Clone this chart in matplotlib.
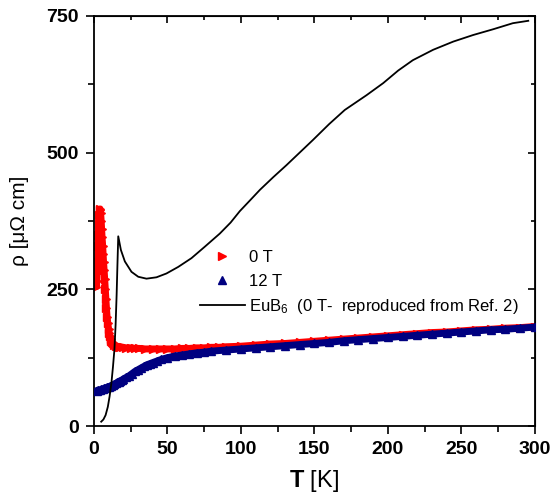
import numpy as np
import matplotlib
matplotlib.use("Agg")
import matplotlib.pyplot as plt
from matplotlib.ticker import MultipleLocator

plt.rcParams['font.family'] = ['Liberation Sans', 'DejaVu Sans']
plt.rcParams['mathtext.fontset'] = 'custom'
plt.rcParams['mathtext.rm'] = 'Liberation Sans'
plt.rcParams['mathtext.it'] = 'Liberation Sans'
plt.rcParams['mathtext.bf'] = 'Liberation Sans:bold'
plt.rcParams['mathtext.default'] = 'regular'

# 0 T data
t_0 = [1.8, 2.0, 2.3, 2.5, 2.8, 3.0, 3.3, 3.6, 4.0, 4.3, 4.6, 5.0, 5.3, 5.6, 6.0,
       6.3, 6.6, 7.0, 7.4, 7.8, 8.2, 8.6, 9.0, 9.5, 10, 10.5, 11, 11.5, 12, 12.5,
       13, 14, 15, 16, 17, 18, 20, 22, 25, 28, 31, 35, 40, 45, 50, 55, 60, 65,
       70, 75, 80, 85, 90, 100, 110, 120, 130, 140, 150, 160, 170, 180, 190,
       200, 210, 220, 230, 240, 250, 260, 270, 280, 290, 300]
rho_0 = [255, 265, 280, 300, 330, 350, 370, 385, 395, 397, 390, 375, 360, 345, 330,
         315, 300, 285, 268, 250, 232, 215, 200, 188, 178, 170, 164, 159, 156, 153,
         151, 149, 147, 146, 145, 145, 144, 143, 143, 142, 142, 141, 141, 141, 141, 141, 142, 142,
         143, 143, 144, 144, 145, 146, 148, 150, 151, 153, 155, 157, 159, 161, 163,
         165, 167, 169, 171, 172, 174, 176, 177, 179, 180, 182]

# 12 T data
t_12 = [2, 3, 4, 5, 6, 7, 8, 9, 10, 11, 12, 13, 14, 15, 16, 17, 18, 19, 20, 22, 24,
        26, 28, 30, 32, 34, 36, 38, 40, 43, 46, 50, 55, 60, 65, 70, 75, 80, 90,
        100, 110, 120, 130, 140, 150, 160, 170, 180, 190, 200, 210, 220, 230,
        240, 250, 260, 270, 280, 290, 300]
rho_12 = [65, 66, 66, 67, 68, 69, 70, 71, 72, 73, 74, 75, 77, 78, 80, 81, 83, 84, 86, 89, 92,
          96, 100, 103, 106, 109, 112, 114, 116, 119, 122, 125, 128, 130, 132, 134, 135, 137, 139,
          141, 143, 145, 147, 149, 151, 153, 156, 158, 160, 162, 164, 166, 168,
          170, 172, 174, 176, 177, 179, 181]

# EuB6 reference curve (Ref. 2)
t_eub6 = [5, 6.5, 8, 9.5, 10.7, 12, 13, 14, 14.8, 15.5, 16, 16.6, 18.4, 21.1,
          25.6, 30.2, 35.8, 42.6, 49.4, 57.4, 66.4, 75.5, 85.7, 93, 99.3,
          106, 113, 122, 131, 140, 149, 160, 170.7, 185.5, 196.8, 207,
          217, 230.8, 244.5, 258, 271.7, 285, 295.5]
rho_eub6 = [8, 12, 20, 35, 54, 80, 108, 140, 185, 240, 290, 347, 322, 301,
            282, 273, 269.5, 272, 279, 291, 307, 328, 352, 372, 393,
            412, 432, 455, 477, 500, 523, 552, 578, 605, 627, 650,
            669, 688, 703, 715, 725.6, 736.6, 741]

fig = plt.figure(figsize=(5.52, 4.96), dpi=100)
ax = fig.add_axes([0.170, 0.141, 0.799, 0.827])

ax.plot(t_0, rho_0, color='red', lw=5, solid_capstyle='round', zorder=1)
ax.plot(t_0, rho_0, ls='none', marker='>', ms=6, color='red', mec='red', label='0 T', zorder=2)
ax.plot(t_12, rho_12, color='navy', lw=5, solid_capstyle='round', zorder=3)
ax.plot(t_12, rho_12, ls='none', marker='^', ms=6, color='navy', mec='navy', label='12 T', zorder=4)
ax.plot(t_eub6, rho_eub6, color='black', lw=1.3, zorder=5,
        label='EuB$_6$  (0 T-  reproduced from Ref. 2)')

ax.set_xlim(0, 300)
ax.set_ylim(0, 750)
ax.xaxis.set_major_locator(MultipleLocator(50))
ax.xaxis.set_minor_locator(MultipleLocator(25))
ax.yaxis.set_major_locator(MultipleLocator(250))
ax.yaxis.set_minor_locator(MultipleLocator(125))

for s in ax.spines.values():
    s.set_linewidth(1.3)

ax.tick_params(which='both', direction='out', width=1.2)
ax.tick_params(which='major', length=6, labelsize=14, pad=5)
ax.tick_params(which='minor', length=4)
for lab in ax.get_xticklabels() + ax.get_yticklabels():
    lab.set_fontweight('bold')

# inward ticks on top and right
ax_t = ax.secondary_xaxis('top')
ax_t.xaxis.set_major_locator(MultipleLocator(50))
ax_t.xaxis.set_minor_locator(MultipleLocator(25))
ax_t.tick_params(which='both', direction='in', labeltop=False, width=1.2)
ax_t.tick_params(which='major', length=5)
ax_t.tick_params(which='minor', length=3)
ax_r = ax.secondary_yaxis('right')
ax_r.yaxis.set_major_locator(MultipleLocator(250))
ax_r.yaxis.set_minor_locator(MultipleLocator(125))
ax_r.tick_params(which='both', direction='in', labelright=False, width=1.2)
ax_r.tick_params(which='major', length=5)
ax_r.tick_params(which='minor', length=3)

ax.set_xlabel(r'$\mathbf{T}$ [K]', fontsize=17, labelpad=7)
ax.set_ylabel('ρ [μΩ cm]', fontsize=15, labelpad=12)

ax.legend(loc='upper left', bbox_to_anchor=(0.225, 0.445), frameon=False,
          fontsize=12, handlelength=2.7, handletextpad=0.25, labelspacing=0.5,
          borderaxespad=0)

fig.savefig('out.png', dpi=100)
